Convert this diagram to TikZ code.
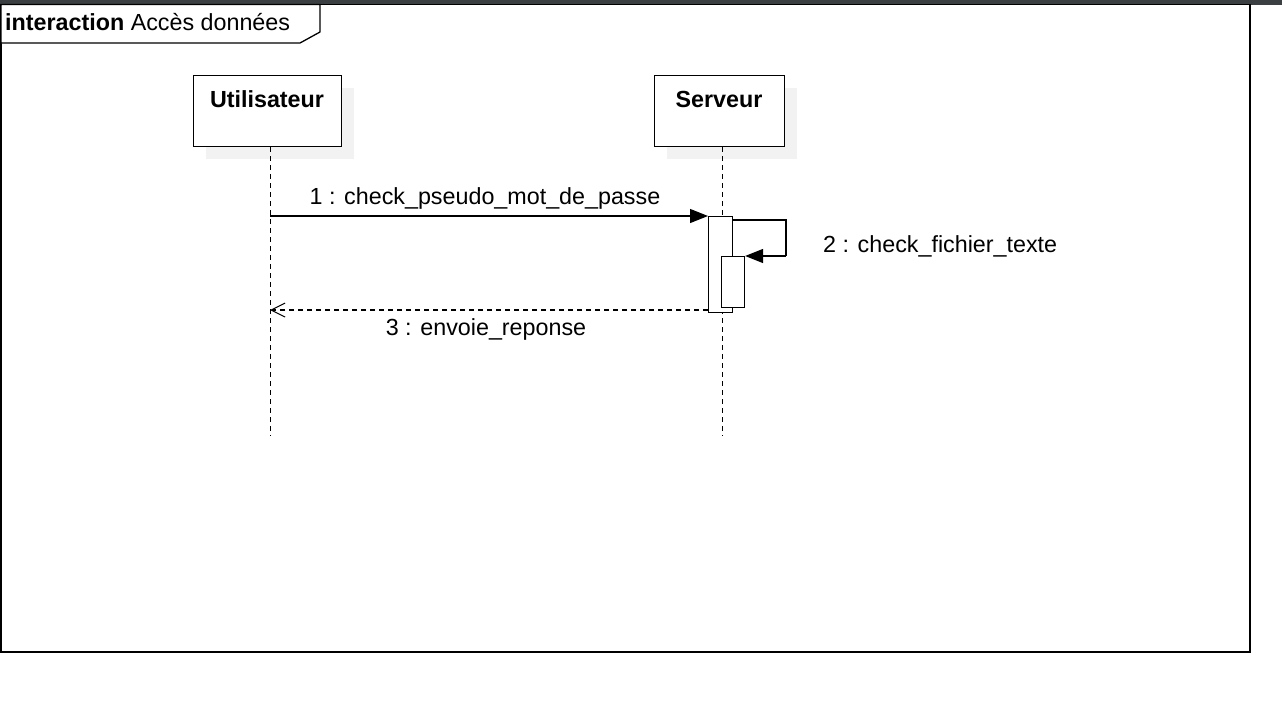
\documentclass[tikz,border=0pt]{standalone}
\usepackage{fontspec}
\setmainfont{Liberation Sans}
\usetikzlibrary{arrows.meta}
\definecolor{topbar}{RGB}{60,63,65}
\begin{document}
\begin{tikzpicture}[x=1pt,y=-1pt,
  lbl/.style={font=\fontsize{23.3}{26}\selectfont, inner sep=0pt},
  objbox/.style={draw, line width=1.3pt, fill=white},
  shadowbox/.style={fill=black!5, draw=none},
  life/.style={line width=1pt, dash pattern=on 5pt off 4pt},
  act/.style={draw, line width=1.1pt, fill=white},
  msg/.style={line width=1.1pt, -{Triangle[length=18pt,width=14pt]}},
  ret/.style={line width=1.1pt, dash pattern=on 5pt off 4pt, -{Straight Barb[length=14pt,width=14pt,line width=1pt]}}
]
\useasboundingbox (0,0) rectangle (1282,702);
\fill[white] (0,0) rectangle (1282,702);
\fill[topbar] (0,0) rectangle (1282,4.5);
% frame
\draw[line width=1.6pt] (1,4.5) rectangle (1250,652);
\draw[line width=1.3pt, fill=white] (1,4.5) -- (320,4.5) -- (320,32) -- (300,43) -- (1,43) -- cycle;
\node[lbl, anchor=west] (title) at (5,22.5) {\textbf{interaction} Accès données};
% lifeline heads
\fill[shadowbox] (206,88) rectangle (354,159);
\fill[shadowbox] (667,88) rectangle (797,159);
\node[objbox, minimum width=148pt, minimum height=71pt, anchor=north west] (u) at (193,75) {};
\node[lbl, font=\fontsize{23.3}{26}\selectfont\bfseries] (ut) at (267,99.5) {Utilisateur};
\node[objbox, minimum width=130pt, minimum height=71pt, anchor=north west] (s) at (654,75) {};
\node[lbl, font=\fontsize{23.3}{26}\selectfont\bfseries] (st) at (719,99.5) {Serveur};
% lifelines
\coordinate (uend) at (270,436);
\coordinate (send) at (722,436);
\draw[life] (u.south -| uend) -- (uend);
\draw[life] (s.south -| send) -- (send);
% activations
\node[act, minimum width=24pt, minimum height=96pt, inner sep=0pt, anchor=north west] (a1) at (708,216) {};
\coordinate (selfA) at (786,220);
\coordinate (selfB) at (786,256);
\draw[line width=1.3pt] (a1.north east |- selfA) -- (selfA) -- (selfB);
\node[act, minimum width=23pt, minimum height=51pt, inner sep=0pt, anchor=north west] (a2) at (721,256) {};
\draw[msg] (selfB) -- (a2.north east);
% messages
\coordinate (m1s) at (270,216);
\draw[msg] (m1s) -- (a1.north west);
\node[lbl] (m1) at (485,198) {1 : check\_pseudo\_mot\_de\_passe};
\coordinate (m3e) at (270,310);
\draw[ret] (a1.south west |- m3e) -- (m3e);
\node[lbl] (m3) at (486,329) {3 : envoie\_reponse};
\node[lbl, anchor=west] (m2) at (823,246) {2 : check\_fichier\_texte};
\end{tikzpicture}
\end{document}
